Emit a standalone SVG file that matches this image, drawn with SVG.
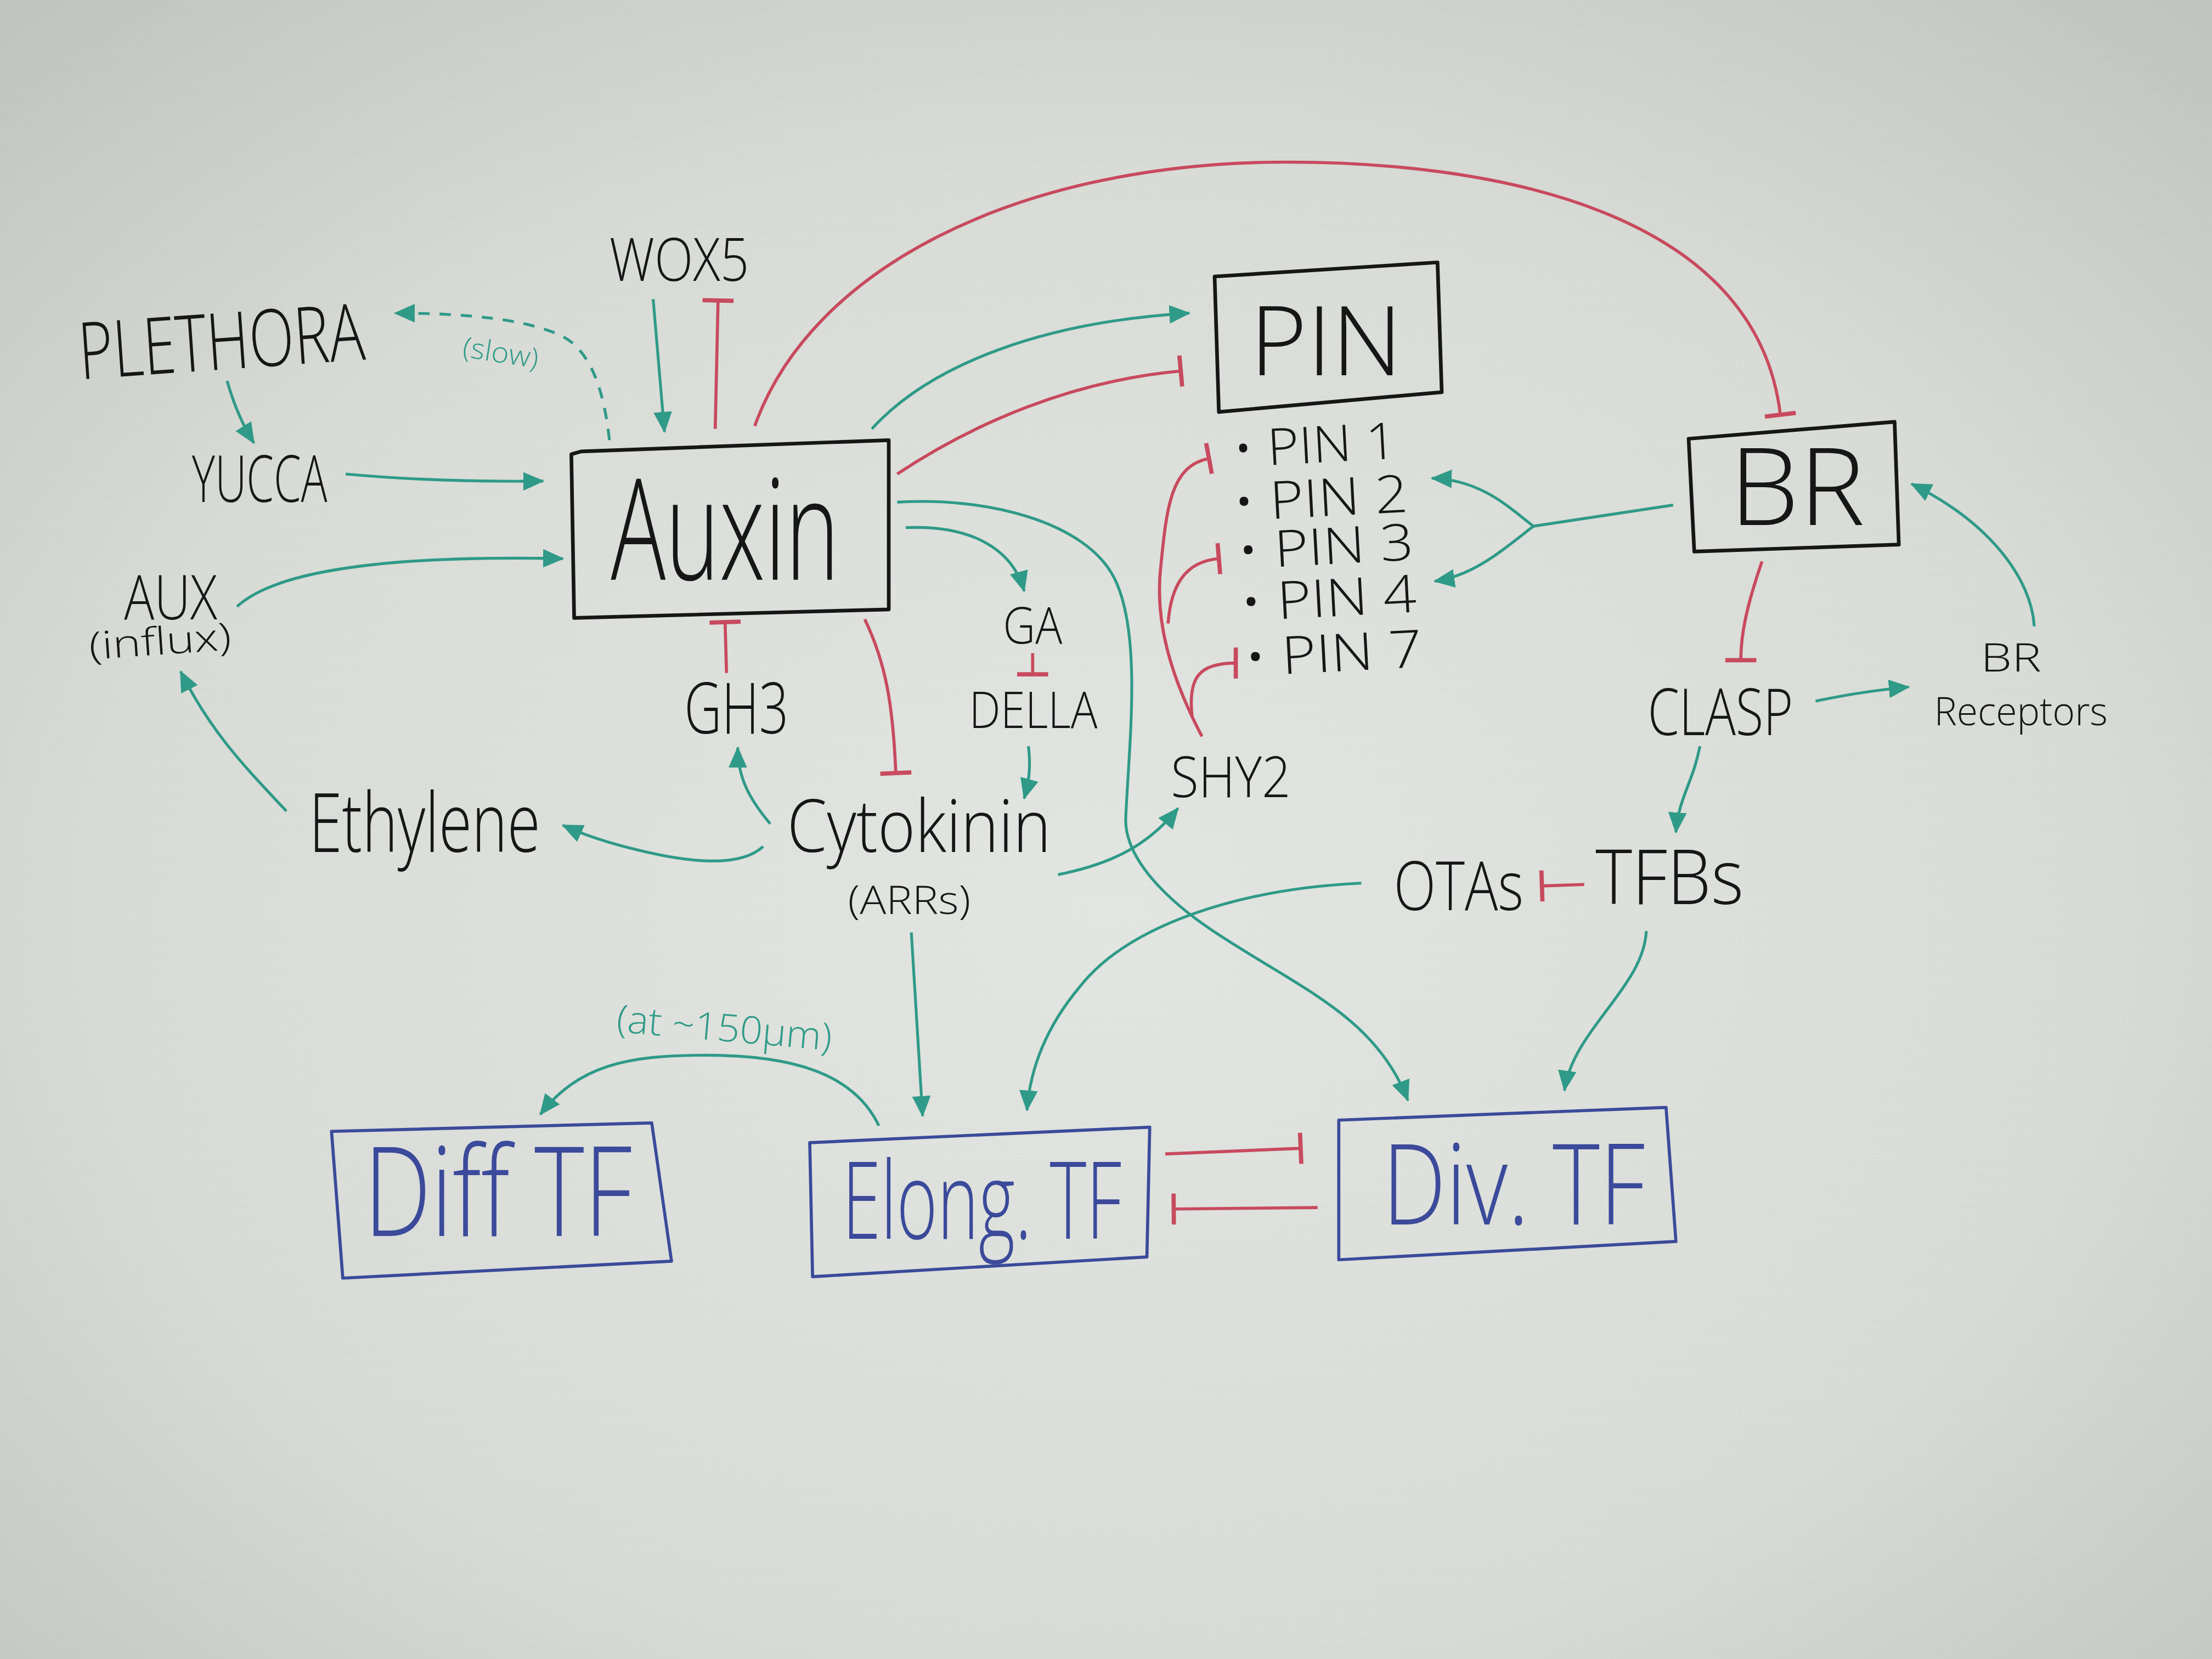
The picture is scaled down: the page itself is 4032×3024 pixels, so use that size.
<svg xmlns="http://www.w3.org/2000/svg" width="4032" height="3024" viewBox="0 0 4032 3024">
<defs>
<radialGradient id="bg" cx="50%" cy="55%" r="75%">
<stop offset="0" stop-color="#e2e5e1"/>
<stop offset="0.6" stop-color="#d8dbd6"/>
<stop offset="1" stop-color="#bfc2bd"/>
</radialGradient>
<marker id="arr" markerUnits="userSpaceOnUse" viewBox="0 0 16 16" refX="15" refY="8" markerWidth="15" markerHeight="15" orient="auto">
<path d="M0,1 L16,8 L0,15 z" fill="#2f9a88"/>
</marker>
<marker id="bar" markerUnits="userSpaceOnUse" viewBox="-3 -13 6 26" refX="0" refY="0" markerWidth="6" markerHeight="26" orient="auto">
<path d="M0,-11 L0,11" stroke="#c84a5e" stroke-width="3" fill="none"/>
</marker>
</defs>
<style>
.t{font-family:"Open Sans","Liberation Sans",sans-serif;font-weight:300;fill:#161616}
.g{fill:#2f9a88}
.bl{fill:#3b4a9a}
.box{fill:none;stroke:#161616;stroke-width:2.6;stroke-linejoin:round}
.bbox{fill:none;stroke:#3b4a9a;stroke-width:2.2;stroke-linejoin:round}
.act{fill:none;stroke:#2f9a88;stroke-width:2;marker-end:url(#arr)}
.ln{fill:none;stroke:#2f9a88;stroke-width:2}
.inh{fill:none;stroke:#c84a5e;stroke-width:2.2;marker-end:url(#bar)}
.dash{stroke-dasharray:8 7}
</style>
<rect width="4032" height="3024" fill="url(#bg)"/>
<g transform="scale(2.5714286)">
<g id="connectors">
<path class="act dash" d="M432,312 C428,275 418,248 398,238 C372,226 330,222 280,222"/>
<path class="act" d="M161,270 Q168,295 180,314"/>
<path class="act" d="M245,336 Q310,342 385,341"/>
<path class="act" d="M463,212 L471,306"/>
<path class="inh" d="M507,304 L509,213"/>
<path class="act" d="M168,430 C200,400 300,394 399,396"/>
<path class="act" d="M203,575 C175,545 150,520 128,476"/>
<path class="act" d="M541,600 C525,615 490,612 450,602 C425,596 410,590 399,585"/>
<path class="act" d="M546,584 C530,565 523,550 523,530"/>
<path class="inh" d="M515,477 L514,441"/>
<path class="inh" d="M613,439 C628,470 633,500 635,548"/>
<path class="act" d="M642,374 C690,372 718,390 726,419"/>
<path class="inh" d="M732,463 L732,478"/>
<path class="act" d="M729,529 C731,545 729,555 726,566"/>
<path class="act" d="M618,304 C660,258 740,228 843,222"/>
<path class="inh" d="M636,336 C690,300 760,270 837,263"/>
<path class="inh" d="M535,302 C575,190 720,118 900,115 C1060,113 1245,150 1262,294"/>
<path class="act" d="M636,356 C700,352 770,370 790,410 C810,450 800,530 798,580 C797,610 830,640 860,660 C920,700 975,720 998,780"/>
<path class="act" d="M750,620 C790,612 815,598 835,573"/>
<path class="inh" d="M852,522 C830,480 818,440 823,400 C827,360 830,330 857,325"/>
<path class="inh" d="M828,442 C830,415 840,398 864,396"/>
<path class="inh" d="M845,508 C842,480 850,470 876,470"/>
<path class="ln" d="M1186,358 L1087,373"/>
<path class="act" d="M1087,373 C1070,360 1050,340 1015,339"/>
<path class="act" d="M1087,373 C1065,390 1045,408 1017,412"/>
<path class="inh" d="M1249,398 C1238,430 1234,450 1234,468"/>
<path class="act" d="M1287,497 Q1320,490 1353,487"/>
<path class="act" d="M1442,444 C1440,410 1410,370 1355,343"/>
<path class="act" d="M1205,529 C1200,555 1190,565 1188,590"/>
<path class="inh" d="M1123,627 L1093,628"/>
<path class="act" d="M965,626 C880,630 800,655 765,700 C740,730 730,760 728,787"/>
<path class="act" d="M1167,660 C1165,700 1115,730 1109,773"/>
<path class="act" d="M646,661 L654,791"/>
<path class="act" d="M623,798 C605,760 560,748 500,748 C445,748 410,755 383,790"/>
<path class="inh" d="M826,818 L922,814"/>
<path class="inh" d="M934,856 L832,857"/>
<text class="t g" x="328" y="257" font-size="20" textLength="54" lengthAdjust="spacingAndGlyphs" transform="rotate(9 355 250)">(slow)</text>
<text class="t g" x="437" y="738" font-size="27" textLength="153" lengthAdjust="spacingAndGlyphs" transform="rotate(5 513 729)">(at ~150μm)</text>
</g>
<g id="node-plethora"><text class="t" x="56" y="262" font-size="56" textLength="203" lengthAdjust="spacingAndGlyphs" transform="rotate(-4 156 250)">PLETHORA</text></g>
<g id="node-wox5"><text class="t" x="432" y="199" font-size="42" textLength="99" lengthAdjust="spacingAndGlyphs">WOX5</text></g>
<g id="node-yucca"><text class="t" x="136" y="356" font-size="46" textLength="96" lengthAdjust="spacingAndGlyphs">YUCCA</text></g>
<g id="node-auxin">
<path class="box" d="M412,320 L630,312 L630,432 L407,438 L405,322 Z"/>
<text class="t" x="433" y="411" font-size="100" textLength="162" lengthAdjust="spacingAndGlyphs">Auxin</text>
</g>
<g id="node-aux">
<text class="t" x="88" y="439" font-size="44" textLength="66" lengthAdjust="spacingAndGlyphs">AUX</text>
<text class="t" x="63" y="464" font-size="27" textLength="101" lengthAdjust="spacingAndGlyphs" transform="rotate(-4 113 456)">(influx)</text>
</g>
<g id="node-ethylene"><text class="t" x="219" y="604" font-size="58" textLength="164" lengthAdjust="spacingAndGlyphs">Ethylene</text></g>
<g id="node-gh3"><text class="t" x="485" y="520" font-size="50" textLength="74" lengthAdjust="spacingAndGlyphs">GH3</text></g>
<g id="node-ga"><text class="t" x="711" y="456" font-size="36" textLength="42" lengthAdjust="spacingAndGlyphs">GA</text></g>
<g id="node-della"><text class="t" x="687" y="516" font-size="36" textLength="91" lengthAdjust="spacingAndGlyphs">DELLA</text></g>
<g id="node-cytokinin">
<text class="t" x="558" y="604" font-size="52" textLength="187" lengthAdjust="spacingAndGlyphs">Cytokinin</text>
<text class="t" x="601" y="648" font-size="28" textLength="87" lengthAdjust="spacingAndGlyphs">(ARRs)</text>
</g>
<g id="node-shy2"><text class="t" x="830" y="565" font-size="40" textLength="85" lengthAdjust="spacingAndGlyphs">SHY2</text></g>
<g id="node-pin">
<path class="box" d="M861,196 L1019,186 L1022,278 L864,292 Z"/>
<text class="t" x="886" y="266" font-size="68" textLength="108" lengthAdjust="spacingAndGlyphs">PIN</text>
</g>
<g id="node-pin-list">
<text class="t" x="874" y="328" font-size="36" textLength="116" lengthAdjust="spacingAndGlyphs" transform="rotate(-3 932 316)">• PIN 1</text>
<text class="t" x="874" y="366" font-size="37" textLength="124" lengthAdjust="spacingAndGlyphs" transform="rotate(-3 936 353)">• PIN 2</text>
<text class="t" x="877" y="400" font-size="36" textLength="125" lengthAdjust="spacingAndGlyphs" transform="rotate(-3 940 388)">• PIN 3</text>
<text class="t" x="879" y="437" font-size="37" textLength="125" lengthAdjust="spacingAndGlyphs" transform="rotate(-3 942 424)">• PIN 4</text>
<text class="t" x="882" y="476" font-size="37" textLength="126" lengthAdjust="spacingAndGlyphs" transform="rotate(-3 945 462)">• PIN 7</text>
</g>
<g id="node-br">
<path class="box" d="M1197,311 L1343,299 L1346,386 L1201,391 Z"/>
<text class="t" x="1226" y="372" font-size="76" textLength="96" lengthAdjust="spacingAndGlyphs">BR</text>
</g>
<g id="node-clasp"><text class="t" x="1168" y="521" font-size="46" textLength="103" lengthAdjust="spacingAndGlyphs">CLASP</text></g>
<g id="node-br-receptors">
<text class="t" x="1404" y="476" font-size="28" textLength="43" lengthAdjust="spacingAndGlyphs">BR</text>
<text class="t" x="1371" y="514" font-size="28" textLength="123" lengthAdjust="spacingAndGlyphs">Receptors</text>
</g>
<g id="node-otas"><text class="t" x="988" y="645" font-size="48" textLength="92" lengthAdjust="spacingAndGlyphs">OTAs</text></g>
<g id="node-tfbs"><text class="t" x="1131" y="641" font-size="54" textLength="105" lengthAdjust="spacingAndGlyphs">TFBs</text></g>
<g id="node-diff-tf">
<path class="bbox" d="M235,802 L462,796 L476,894 L243,906 Z"/>
<text class="t bl" x="258" y="876" font-size="88" textLength="190" lengthAdjust="spacingAndGlyphs">Diff TF</text>
</g>
<g id="node-elong-tf">
<path class="bbox" d="M574,810 L815,799 L813,891 L576,905 Z"/>
<text class="t bl" x="597" y="878" font-size="76" textLength="198" lengthAdjust="spacingAndGlyphs">Elong. TF</text>
</g>
<g id="node-div-tf">
<path class="bbox" d="M949,794 L1181,785 L1188,880 L949,893 Z"/>
<text class="t bl" x="980" y="868" font-size="80" textLength="186" lengthAdjust="spacingAndGlyphs">Div. TF</text>
</g>
</g>
</svg>
